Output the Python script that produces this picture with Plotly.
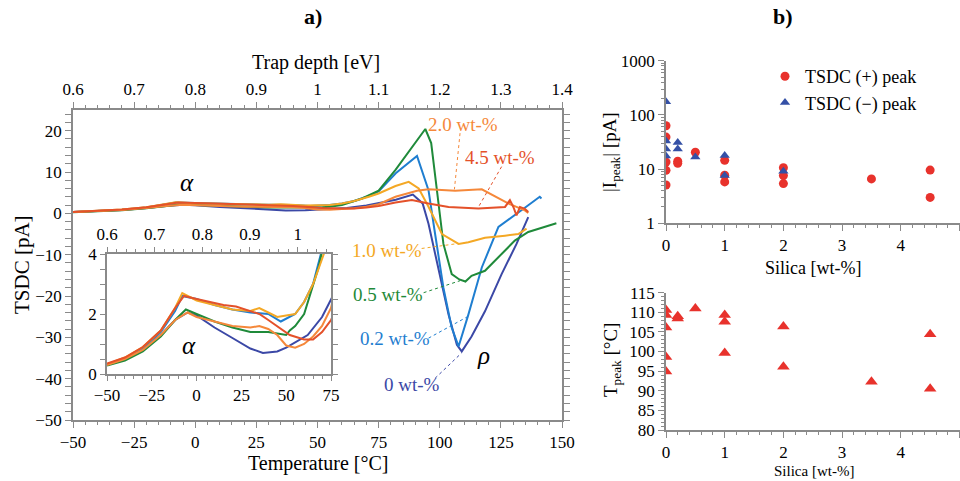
import plotly.graph_objects as go

# ---------------- Data: panel a) TSDC curves ----------------
T_0 = [-50, -40, -30, -20, -12, -5, 0, 10, 20, 30, 37, 45, 50, 55, 62, 70, 75, 82, 89, 93, 95.4, 99.5, 103.6, 107, 109, 113, 118.5, 125.3, 131.4, 136.2]
I_0 = [0.3, 0.5, 0.8, 1.3, 1.8, 2.05, 1.95, 1.55, 1.2, 0.85, 0.7, 0.75, 0.88, 1.05, 1.3, 1.9, 2.5, 3.3, 4.55, 2.4, -2.5, -13.1, -24.5, -31.8, -33.4, -29.8, -23.7, -14.7, -7.4, -0.9]

T_02 = [-50, -40, -30, -20, -12, -8, 0, 10, 20, 30, 40, 47, 55, 60, 65, 70, 75, 82, 90.7, 95.4, 98.1, 101.5, 104.9, 107.7, 111.7, 117.2, 124, 130.7, 136.2, 140.9, 141.6]
I_02 = [0.3, 0.5, 0.85, 1.4, 2.1, 2.6, 2.5, 2.3, 2.15, 2.05, 2.0, 1.75, 2.0, 2.4, 3.0, 4.0, 5.3, 9.7, 13.9, 5.6, -5.0, -18, -27.7, -32.2, -24.5, -13.1, -3.3, -0.5, 1.95, 4.0, 3.6]

T_05 = [-50, -40, -30, -20, -12, -6, 0, 10, 20, 30, 40, 50, 52, 55, 60, 68.3, 75, 81.9, 90, 94.1, 96.5, 99.5, 101.5, 104.9, 108, 110.5, 113, 118.5, 125.3, 130.7, 136.2, 143, 147.7]
I_05 = [0.28, 0.45, 0.75, 1.25, 1.8, 2.15, 2.0, 1.75, 1.55, 1.4, 1.4, 1.3, 1.45, 1.6, 2.0, 3.6, 5.5, 10.5, 17, 20.4, 17, 3.2, -7.4, -14.7, -16.0, -16.5, -15.1, -13.9, -9.8, -6.6, -4.5, -3.3, -2.4]

T_10 = [-50, -40, -30, -20, -12, -8, 0, 10, 20, 30, 35, 40, 45, 50, 55, 60, 65, 71, 75, 81.9, 87.3, 91.4, 95.4, 100.9, 107.7, 111.7, 118.5, 126.7, 132.1, 135.5]
I_10 = [0.32, 0.55, 0.9, 1.45, 2.2, 2.7, 2.45, 2.3, 2.15, 2.1, 2.2, 2.05, 1.9, 1.95, 2.0, 2.4, 3.0, 4.0, 4.8, 6.6, 7.6, 6.0, 1.6, -5.0, -7.4, -7.0, -5.9, -5.4, -5.0, -3.7]

T_20 = [-50, -40, -30, -20, -12, -5, 0, 10, 20, 30, 35, 40, 45, 50, 55, 60, 65, 70, 75, 81.9, 90.7, 95.4, 106.3, 117.2, 122.6, 128, 131.4, 134.8, 136.2]
I_20 = [0.3, 0.5, 0.8, 1.3, 1.8, 2.05, 1.9, 1.75, 1.6, 1.55, 1.6, 1.5, 1.3, 0.95, 0.88, 1.0, 1.25, 1.6, 2.2, 4.0, 5.45, 5.8, 5.45, 5.8, 4.0, 2.4, 1.55, 0.7, 0.08]

T_45 = [-50, -40, -30, -20, -12, -7, 0, 10, 15, 22, 30, 35, 40, 45, 52, 60, 65, 70, 75, 81.9, 88.6, 95.4, 103.6, 115.8, 126.7, 128.7, 130.1, 131.4, 132.8, 134.8, 136.2]
I_45 = [0.35, 0.55, 0.9, 1.45, 2.2, 2.6, 2.5, 2.35, 2.3, 2.25, 2.1, 2.0, 1.8, 1.6, 1.3, 1.15, 1.15, 1.4, 1.8, 2.6, 3.2, 2.4, 1.55, 1.14, 1.55, 3.2, 1.55, -0.5, 1.55, 1.1, 0.3]

series_labels = ["0 wt-%", "0.2 wt-%", "0.5 wt-%", "1.0 wt-%", "2.0 wt-%", "4.5 wt-%"]
series_colors = ["#3b48a6", "#1f7ed0", "#1f8a3a", "#f4a825", "#f5883a", "#e4512a"]
series_T = [T_0, T_02, T_05, T_10, T_20, T_45]
series_I = [I_0, I_02, I_05, I_10, I_20, I_45]

# label positions / leader lines (data coords of panel a)
label_pos = [(88.5, -41.5), (81.6, -30.4), (78.7, -19.6), (78.3, -9.1), (109.7, 21.6), (124.7, 13.5)]
leader_from = [(98.1, -39.9), (95.4, -30.2), (93.4, -19.2), (92.6, -8.5), (108.3, 19.4), (125.3, 11.3)]
leader_to = [(108.9, -33.8), (111.7, -24.9), (108.3, -16.3), (107.6, -7.3), (106.0, 5.8), (115.8, 1.5)]

# ---------------- Data: panel b) ----------------
silica_pos = [0, 0, 0, 0, 0, 0.2, 0.2, 0.5, 1, 1, 1, 2, 2, 2, 3.5, 4.5, 4.5]
ipeak_pos = [63, 39, 13.5, 9.5, 5.1, 14, 12.8, 20.5, 14.5, 7.7, 5.8, 10.6, 7.6, 5.4, 6.6, 9.6, 3.0]

silica_neg = [0, 0, 0, 0, 0.2, 0.2, 0.5, 1, 1, 2]
ipeak_neg = [175, 33, 23.5, 17.5, 31, 23.5, 16.8, 17.8, 7.6, 9.1]

silica_T = [0, 0, 0, 0, 0, 0.2, 0.2, 0.5, 1, 1, 1, 2, 2, 3.5, 4.5, 4.5]
tpeak = [110.6, 109.3, 106.1, 98.6, 94.9, 109.0, 108.4, 111.0, 109.3, 107.6, 99.6, 106.4, 96.1, 92.3, 104.4, 90.5]

# ---------------- Figure ----------------
SERIF = "Liberation Serif, DejaVu Serif, Times New Roman, serif"
GREY = "#8a8a8a"
W, H = 960, 481

def px(xp):
    return xp / W

def py(yp):
    return 1 - yp / H

fig = go.Figure()

# main curves
for T, I, c, name in zip(series_T, series_I, series_colors, series_labels):
    fig.add_trace(go.Scatter(x=T, y=I, mode="lines", line=dict(color=c, width=2),
                             xaxis="x", yaxis="y", showlegend=False, name=name))
# inset curves
for T, I, c, name in zip(series_T, series_I, series_colors, series_labels):
    fig.add_trace(go.Scatter(x=T, y=I, mode="lines", line=dict(color=c, width=2),
                             xaxis="x3", yaxis="y3", showlegend=False, name=name))

# dummy traces for top axes
fig.add_trace(go.Scatter(x=[0.6, 1.4], y=[None, None], xaxis="x2", yaxis="y", showlegend=False, hoverinfo="skip"))
fig.add_trace(go.Scatter(x=[0.6, 1.07], y=[None, None], xaxis="x4", yaxis="y3", showlegend=False, hoverinfo="skip"))

# panel b) top
fig.add_trace(go.Scatter(x=silica_pos, y=ipeak_pos, mode="markers", name="TSDC (+) peak",
                         marker=dict(symbol="circle", size=9, color="#e8322c"),
                         xaxis="x5", yaxis="y5"))
fig.add_trace(go.Scatter(x=silica_neg, y=ipeak_neg, mode="markers", name="TSDC (\u2212) peak",
                         marker=dict(symbol="triangle-up", size=9, color="#3450a6"),
                         xaxis="x5", yaxis="y5"))
# panel b) bottom
fig.add_trace(go.Scatter(x=silica_T, y=tpeak, mode="markers", showlegend=False,
                         marker=dict(symbol="triangle-up", size=11, color="#e8322c"),
                         xaxis="x6", yaxis="y6"))

tickfont = dict(family=SERIF, size=17, color="black")
axcommon = dict(showgrid=False, zeroline=False, showline=True, linecolor=GREY, linewidth=1.5,
                ticks="outside", tickcolor=GREY, tickfont=tickfont, automargin=False)

main_dom_x = [px(73), px(562)]
main_dom_y = [py(420), py(110)]
inset_dom_x = [px(107), px(331)]
inset_dom_y = [py(374), py(254)]
rb_dom_x = [px(666), px(959.5)]
rt_dom_y = [py(223.3), py(60.7)]
rbot_dom_y = [py(430), py(292.7)]

fig.update_layout(
    template="none",
    width=W, height=H, margin=dict(l=0, r=0, t=0, b=0, autoexpand=False),
    paper_bgcolor="white", plot_bgcolor="white",
    font=dict(family=SERIF, color="black"),
    xaxis=dict(domain=main_dom_x, anchor="y", range=[-50, 150], dtick=25, tick0=0, ticklen=6,
               mirror=True, minor=dict(dtick=5, ticklen=3, ticks="outside", tickcolor=GREY), **axcommon),
    xaxis2=dict(domain=main_dom_x, anchor="y", overlaying="x", side="top", range=[0.6, 1.4], dtick=0.1,
                tick0=0.6, ticklen=6, minor=dict(dtick=0.02, ticklen=3, ticks="outside", tickcolor=GREY), **axcommon),
    yaxis=dict(domain=main_dom_y, anchor="x", range=[-50, 25], dtick=10, tick0=0, ticklen=6,
               mirror="allticks", minor=dict(dtick=2, ticklen=3, ticks="outside", tickcolor=GREY), **axcommon),
    xaxis3=dict(domain=inset_dom_x, anchor="y3", range=[-50, 75], dtick=25, tick0=0, ticklen=5,
                mirror=True, minor=dict(dtick=5, ticklen=3, ticks="outside", tickcolor=GREY), **axcommon),
    xaxis4=dict(domain=inset_dom_x, anchor="y3", overlaying="x3", side="top", range=[0.6, 1.07], dtick=0.1,
                tick0=0.6, ticklen=5, minor=dict(dtick=0.02, ticklen=3, ticks="outside", tickcolor=GREY), **axcommon),
    yaxis3=dict(domain=inset_dom_y, anchor="x3", range=[0, 4], dtick=2, tick0=0, ticklen=5,
                mirror="allticks", minor=dict(dtick=0.5, ticklen=3, ticks="outside", tickcolor=GREY), **axcommon),
    xaxis5=dict(domain=rb_dom_x, anchor="y5", range=[0, 5], dtick=1, ticklen=6,
                minor=dict(dtick=0.2, ticklen=3, ticks="outside", tickcolor=GREY), **axcommon),
    yaxis5=dict(domain=rt_dom_y, anchor="x5", type="log", range=[0, 3], dtick=1, ticklen=6,
                minor=dict(ticklen=3, ticks="outside", tickcolor=GREY), **axcommon),
    xaxis6=dict(domain=rb_dom_x, anchor="y6", range=[0, 5], dtick=1, ticklen=6,
                minor=dict(dtick=0.2, ticklen=3, ticks="outside", tickcolor=GREY), **axcommon),
    yaxis6=dict(domain=rbot_dom_y, anchor="x6", range=[80, 115], dtick=5, tick0=80, ticklen=6,
                minor=dict(dtick=1, ticklen=3, ticks="outside", tickcolor=GREY), **axcommon),
    legend=dict(x=px(765), y=py(58), xanchor="left", yanchor="top", bgcolor="rgba(0,0,0,0)",
                font=dict(family=SERIF, size=18, color="black"), itemwidth=30, tracegroupgap=0,
                borderwidth=0),
    showlegend=True,
)

# inset white background
fig.add_shape(type="rect", xref="paper", yref="paper", x0=inset_dom_x[0], x1=inset_dom_x[1],
              y0=inset_dom_y[0], y1=inset_dom_y[1], fillcolor="white", line=dict(width=0), layer="below")

def paper_text(text, xp, yp, size, angle=0):
    return dict(text=text, x=px(xp), y=py(yp), xref="paper", yref="paper", showarrow=False,
                xanchor="center", yanchor="middle", textangle=angle, font=dict(family=SERIF, size=size))

ann = []
ann.append(paper_text("<b>a)</b>", 313, 16, 22))
ann.append(paper_text("<b>b)</b>", 783, 16, 22))
ann.append(paper_text("Trap depth [eV]", 316, 62, 20))
ann.append(paper_text("Temperature [\u00b0C]", 318, 463, 20))
ann.append(paper_text("TSDC [pA]", 22, 265, 21, -90))
ann.append(paper_text("|I<sub>peak</sub>| [pA]", 611, 152, 19, -90))
ann.append(paper_text("T<sub>peak</sub> [\u00b0C]", 612, 360, 19, -90))
ann.append(paper_text("Silica [wt-%]", 813, 268, 18))
ann.append(paper_text("Silica [wt-%]", 814, 471, 15))
# Greek labels
ann.append(dict(text="<i>\u03b1</i>", x=-3.5, y=7.5, xref="x", yref="y", showarrow=False,
                xanchor="center", yanchor="middle", font=dict(family=SERIF, size=25)))
ann.append(dict(text="<i>\u03c1</i>", x=118, y=-34.5, xref="x", yref="y", showarrow=False,
                xanchor="center", yanchor="middle", font=dict(family=SERIF, size=25)))
ann.append(dict(text="<i>\u03b1</i>", x=-4.4, y=0.95, xref="x3", yref="y3", showarrow=False,
                xanchor="center", yanchor="middle", font=dict(family=SERIF, size=25)))

for (lx, ly), (fx, fy), (tx, ty), c, name in zip(label_pos, leader_from, leader_to, series_colors, series_labels):
    ann.append(dict(text=name, x=lx, y=ly, xref="x", yref="y", showarrow=False,
                    xanchor="center", yanchor="middle", font=dict(family=SERIF, size=19, color=c)))
    fig.add_shape(type="line", xref="x", yref="y", x0=fx, y0=fy, x1=tx, y1=ty,
                  line=dict(color=c, width=1, dash="dot"))

fig.update_layout(annotations=ann)

fig.write_html("out.html", config={"displayModeBar": False},
               post_script="document.body.style.margin='0';document.body.style.overflow='hidden';")
